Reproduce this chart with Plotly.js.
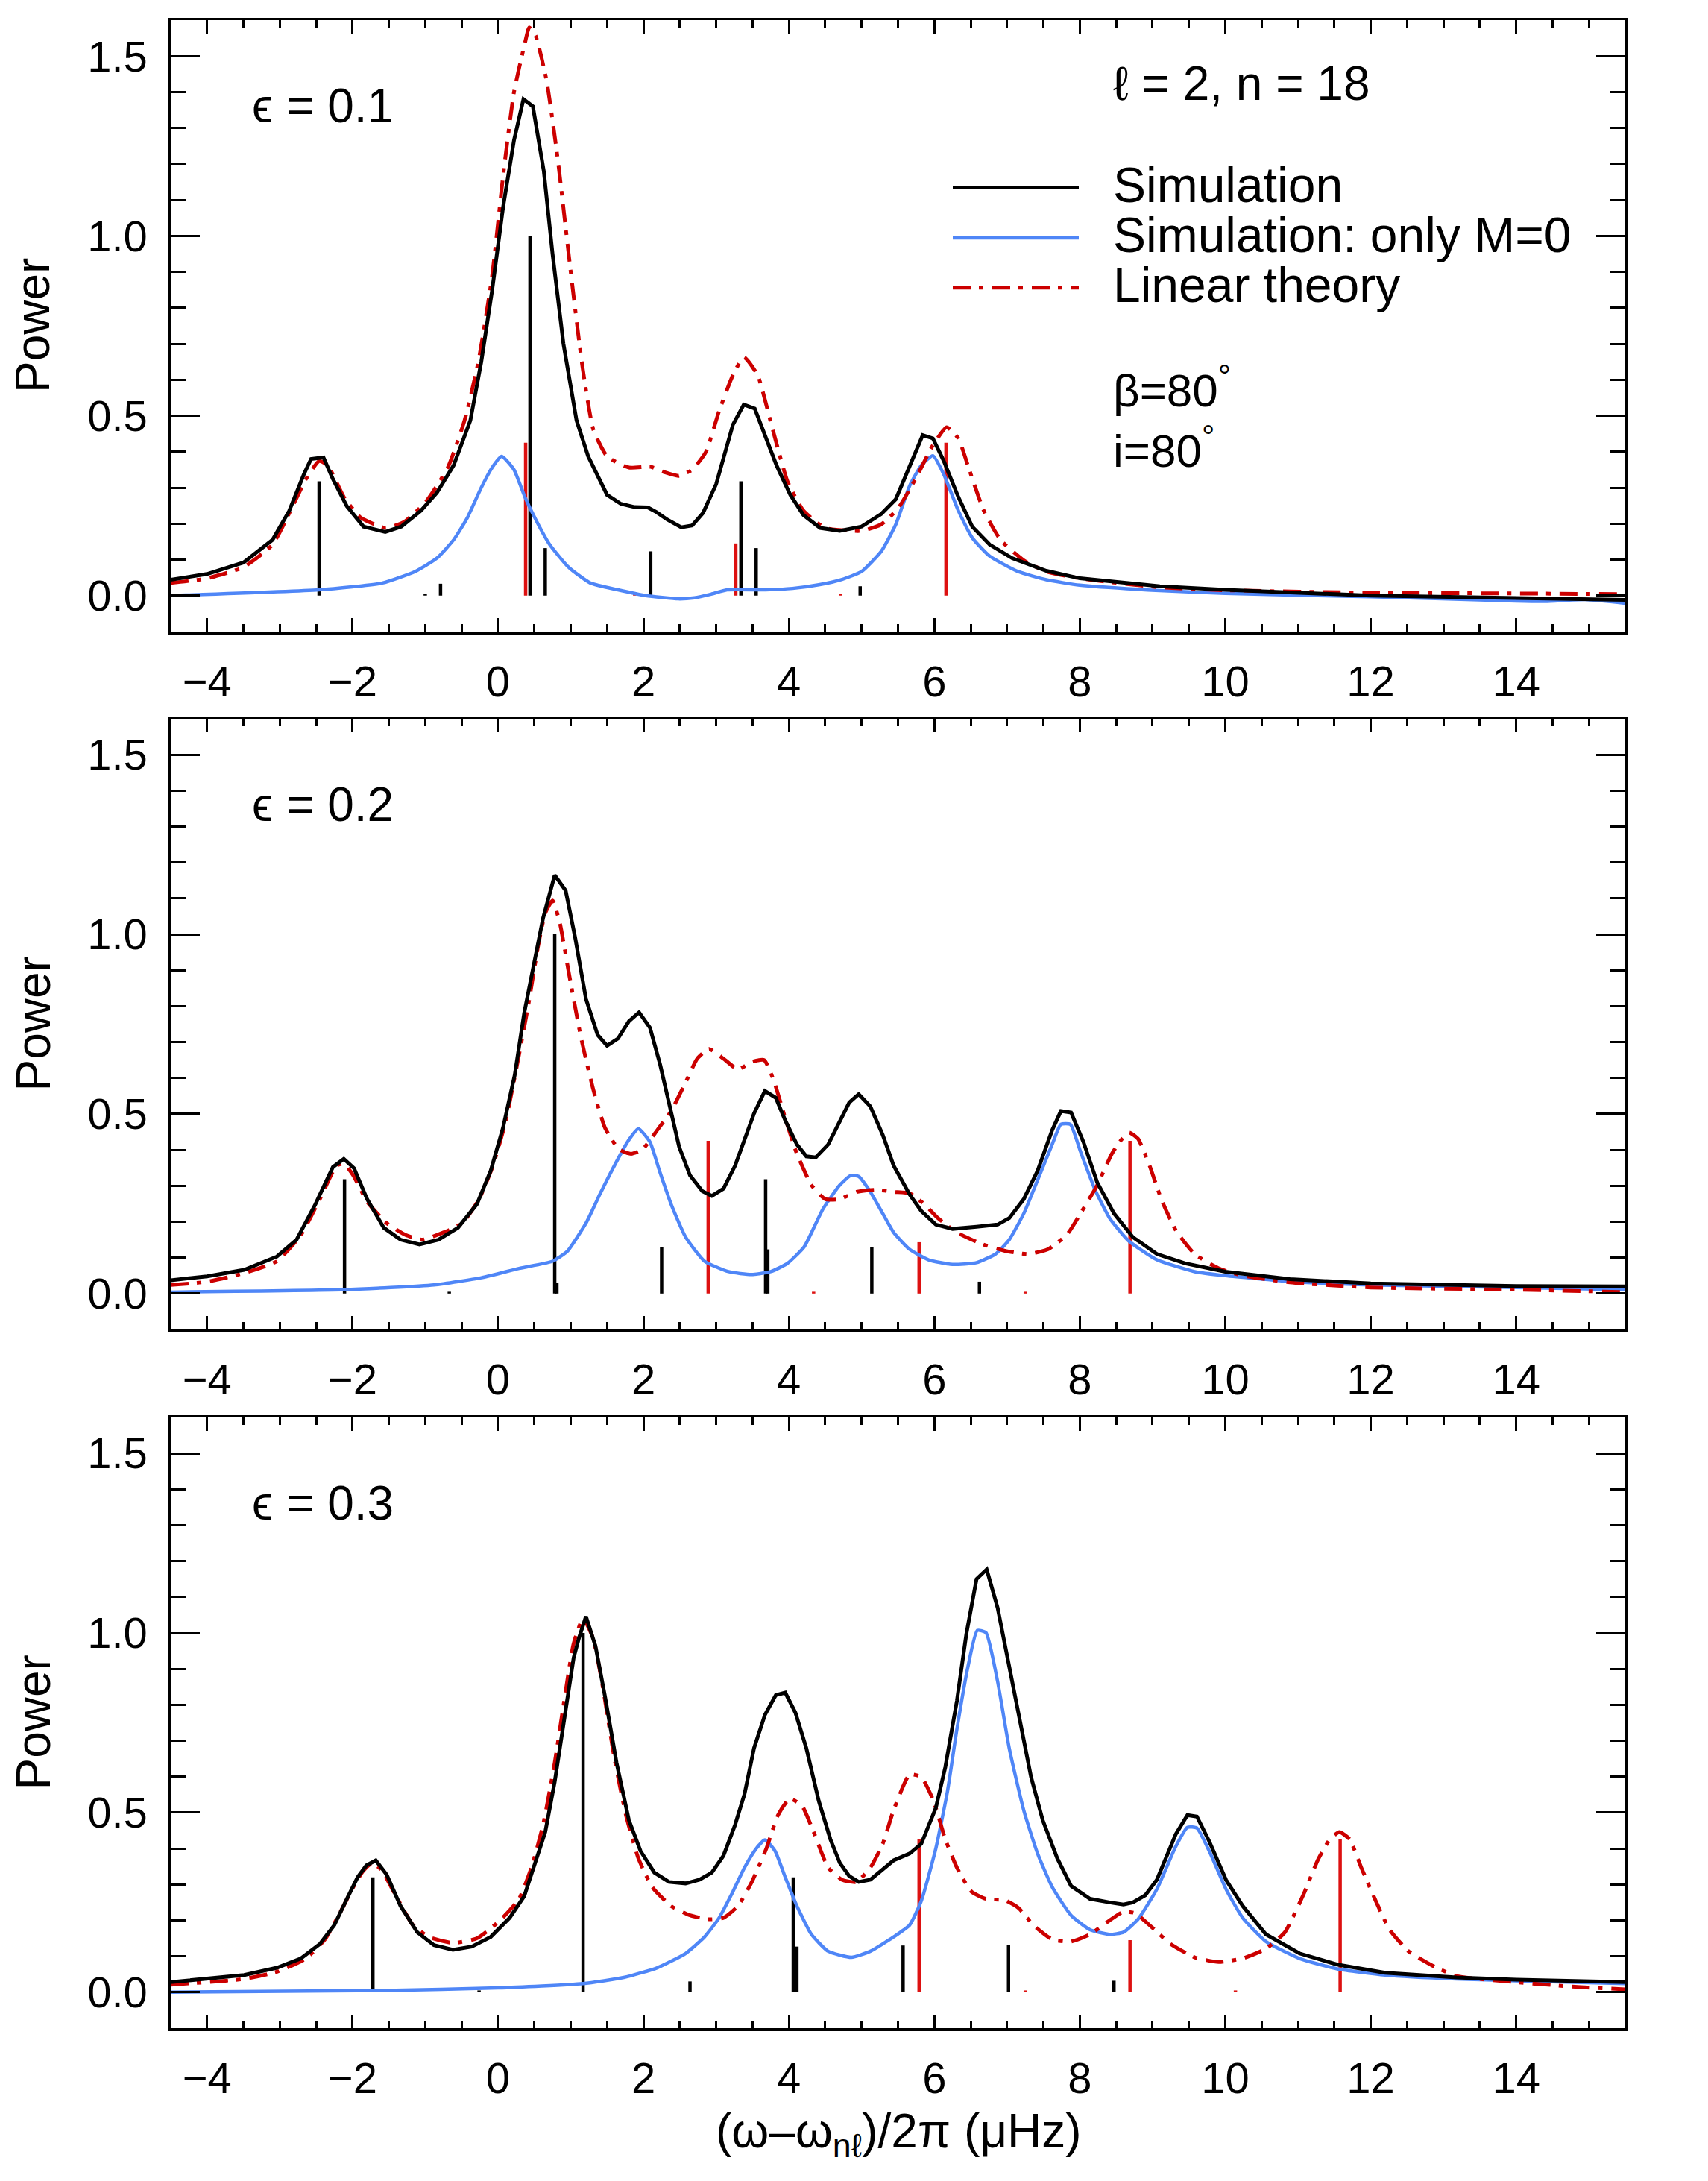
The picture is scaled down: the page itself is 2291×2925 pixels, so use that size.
<!DOCTYPE html>
<html>
<head>
<meta charset="utf-8">
<script src="https://cdn.plot.ly/plotly-3.0.1.min.js"></script>
<style>body{margin:0;background:#fff}</style>
</head>
<body>
<div id="chart" style="width:2291px;height:2925px"></div>
<script>
// epsilon = 0.1
const simX1 = [-4.5,-4,-3.5,-3.1,-2.87,-2.67,-2.57,-2.4,-2.27,-2.08,-1.85,-1.55,-1.33,-1.06,-0.84,-0.61,-0.38,-0.23,-0.08,0.07,0.22,0.35,0.48,0.63,0.75,0.9,1.08,1.24,1.5,1.69,1.88,2.06,2.18,2.33,2.52,2.67,2.82,3.0,3.23,3.38,3.53,3.68,3.83,4.02,4.2,4.43,4.7,5.0,5.27,5.47,5.66,5.84,5.98,6.13,6.33,6.52,6.76,7.07,7.54,8.0,9.1,10,12,14,15.5];
const simY1 = [0.044,0.06,0.092,0.155,0.236,0.337,0.38,0.384,0.324,0.249,0.192,0.177,0.192,0.236,0.286,0.362,0.487,0.65,0.85,1.08,1.266,1.38,1.36,1.18,0.95,0.70,0.487,0.387,0.28,0.255,0.246,0.245,0.232,0.211,0.19,0.195,0.23,0.31,0.475,0.531,0.52,0.443,0.362,0.28,0.224,0.188,0.18,0.192,0.227,0.268,0.362,0.446,0.437,0.374,0.274,0.192,0.142,0.104,0.069,0.048,0.026,0.016,0.0,-0.008,-0.012];
const m0X1 = [-4.5,-2.46,-1.59,-1.14,-0.84,-0.61,-0.42,-0.23,-0.08,0.05,0.22,0.37,0.52,0.71,0.97,1.27,1.65,2.03,2.48,2.7,2.93,3.15,3.68,4.05,4.41,4.73,5.0,5.27,5.47,5.66,5.82,5.98,6.13,6.33,6.52,6.76,7.15,7.54,8,9.1,10,12,14,14.4,14.95,15.5];
const m0Y1 = [0.0,0.016,0.035,0.067,0.104,0.155,0.217,0.3,0.356,0.387,0.35,0.274,0.211,0.142,0.079,0.035,0.016,0.0,-0.009,-0.006,0.004,0.016,0.016,0.02,0.03,0.045,0.067,0.123,0.198,0.305,0.362,0.389,0.337,0.236,0.161,0.11,0.067,0.044,0.029,0.014,0.006,-0.003,-0.015,-0.016,-0.011,-0.021];
const linX1 = [-4.5,-4,-3.5,-3.1,-2.64,-2.46,-2.34,-2.12,-1.89,-1.55,-1.29,-0.99,-0.69,-0.46,-0.27,-0.08,0.07,0.22,0.37,0.43,0.52,0.67,0.82,1.0,1.16,1.31,1.5,1.8,2.1,2.29,2.48,2.67,2.86,3.04,3.23,3.38,3.57,3.76,3.98,4.2,4.5,5.0,5.27,5.5,5.74,5.98,6.17,6.33,6.48,6.68,6.91,7.23,7.54,8,9.1,10,12,14,15.5];
const linY1 = [0.035,0.048,0.079,0.142,0.324,0.374,0.362,0.274,0.217,0.188,0.205,0.261,0.356,0.487,0.65,0.89,1.166,1.40,1.536,1.58,1.555,1.43,1.216,0.90,0.638,0.462,0.387,0.356,0.358,0.343,0.333,0.35,0.4,0.513,0.613,0.663,0.613,0.475,0.318,0.236,0.188,0.18,0.198,0.242,0.324,0.418,0.468,0.437,0.35,0.236,0.155,0.098,0.067,0.048,0.023,0.015,0.008,0.006,0.004];
const modeX1 = [-2.46,-1.0,-0.79,0.44,0.65,2.1,3.34,3.55,4.98];
const modeH1 = [0.318,0.005,0.033,1.0,0.132,0.123,0.318,0.132,0.026];
const theoX1 = [0.38,1.88,3.27,4.71,6.16];
const theoH1 = [0.425,0.005,0.145,0.005,0.425];

// epsilon = 0.2
const simX2 = [-4.5,-4,-3.49,-3.04,-2.77,-2.51,-2.27,-2.12,-1.98,-1.8,-1.57,-1.34,-1.08,-0.82,-0.55,-0.29,-0.1,0.07,0.23,0.36,0.49,0.62,0.78,0.93,1.06,1.21,1.37,1.5,1.65,1.8,1.94,2.09,2.23,2.36,2.49,2.64,2.81,2.94,3.1,3.26,3.52,3.67,3.82,3.95,4.11,4.24,4.37,4.54,4.7,4.83,4.96,5.12,5.29,5.44,5.66,5.82,6.02,6.25,6.58,6.87,7.03,7.23,7.42,7.62,7.74,7.88,8.05,8.24,8.47,8.73,9.06,9.45,10,10.89,12,14,15.5];
const simY2 = [0.037,0.048,0.066,0.103,0.15,0.249,0.352,0.375,0.349,0.263,0.183,0.15,0.137,0.15,0.183,0.249,0.342,0.462,0.608,0.78,0.913,1.045,1.165,1.122,0.992,0.82,0.72,0.69,0.71,0.758,0.783,0.74,0.637,0.528,0.409,0.329,0.285,0.272,0.292,0.356,0.501,0.564,0.545,0.482,0.415,0.382,0.379,0.415,0.482,0.532,0.555,0.521,0.442,0.356,0.276,0.23,0.192,0.18,0.186,0.192,0.21,0.263,0.342,0.455,0.508,0.504,0.422,0.309,0.223,0.157,0.11,0.084,0.061,0.04,0.028,0.021,0.02];
const m0X2 = [-4.5,-2.12,-0.88,-0.23,0.29,0.75,0.95,1.21,1.4,1.6,1.8,1.93,2.09,2.22,2.38,2.58,2.84,3.17,3.49,3.75,3.98,4.21,4.47,4.7,4.85,4.96,5.12,5.29,5.44,5.66,5.92,6.25,6.58,6.84,7.03,7.23,7.42,7.62,7.74,7.87,8.01,8.21,8.41,8.67,9.06,9.58,10,10.89,12,14,15.5];
const m0Y2 = [0.004,0.011,0.024,0.044,0.07,0.09,0.117,0.196,0.276,0.356,0.428,0.459,0.422,0.342,0.249,0.157,0.09,0.061,0.053,0.061,0.084,0.13,0.236,0.302,0.329,0.326,0.283,0.223,0.17,0.123,0.094,0.081,0.086,0.11,0.15,0.223,0.316,0.415,0.471,0.471,0.395,0.289,0.21,0.147,0.094,0.061,0.05,0.034,0.024,0.017,0.011];
const linX2 = [-4.5,-4,-3.49,-3.04,-2.71,-2.45,-2.22,-2.12,-1.99,-1.8,-1.53,-1.27,-1.04,-0.75,-0.49,-0.26,-0.07,0.1,0.26,0.42,0.55,0.65,0.75,0.85,0.98,1.14,1.31,1.47,1.66,1.83,1.99,2.19,2.38,2.58,2.74,2.9,3.1,3.3,3.49,3.66,3.79,3.95,4.11,4.31,4.5,4.7,4.93,5.19,5.44,5.66,5.86,6.05,6.31,6.64,6.97,7.29,7.56,7.82,8.01,8.24,8.44,8.57,8.68,8.8,8.96,9.12,9.32,9.58,9.91,10.24,10.89,12,14,15.5];
const linY2 = [0.024,0.033,0.057,0.09,0.163,0.263,0.356,0.362,0.329,0.256,0.196,0.163,0.15,0.17,0.196,0.263,0.356,0.475,0.634,0.807,0.966,1.059,1.094,1.032,0.886,0.714,0.568,0.462,0.402,0.389,0.402,0.455,0.508,0.588,0.654,0.681,0.654,0.624,0.645,0.65,0.594,0.488,0.389,0.302,0.263,0.263,0.283,0.289,0.283,0.279,0.249,0.21,0.17,0.139,0.119,0.11,0.123,0.163,0.223,0.302,0.389,0.428,0.448,0.431,0.356,0.263,0.176,0.11,0.07,0.05,0.031,0.017,0.011,0.004];
const modeX2 = [-2.11,-0.67,0.78,0.81,2.25,3.68,3.71,5.14,6.62];
const modeH2 = [0.318,0.005,1.0,0.03,0.13,0.318,0.123,0.13,0.033];
const theoX2 = [2.89,4.34,5.79,7.25,8.69];
const theoH2 = [0.425,0.005,0.143,0.005,0.425];

// epsilon = 0.3
const simX3 = [-4.5,-4,-3.49,-3.04,-2.71,-2.45,-2.25,-2.06,-1.93,-1.81,-1.68,-1.53,-1.34,-1.11,-0.88,-0.62,-0.36,-0.1,0.16,0.36,0.49,0.65,0.78,0.91,1.04,1.11,1.21,1.34,1.47,1.63,1.8,1.96,2.15,2.35,2.58,2.77,2.94,3.1,3.26,3.39,3.52,3.67,3.82,3.95,4.09,4.24,4.41,4.57,4.7,4.83,4.96,5.12,5.29,5.44,5.66,5.82,6.02,6.15,6.31,6.44,6.58,6.72,6.87,7.03,7.2,7.33,7.49,7.69,7.88,8.14,8.41,8.6,8.73,8.9,9.06,9.32,9.48,9.61,9.78,10.01,10.24,10.56,11.02,11.54,12.2,13.18,14,15.5];
const simY3 = [0.028,0.037,0.048,0.068,0.094,0.134,0.187,0.267,0.32,0.353,0.367,0.327,0.24,0.167,0.131,0.118,0.127,0.154,0.207,0.267,0.347,0.446,0.586,0.758,0.931,0.984,1.046,0.964,0.825,0.639,0.479,0.393,0.333,0.307,0.303,0.313,0.333,0.38,0.466,0.552,0.679,0.772,0.827,0.834,0.778,0.679,0.533,0.426,0.36,0.323,0.307,0.313,0.343,0.367,0.386,0.413,0.513,0.626,0.811,0.997,1.15,1.177,1.07,0.904,0.732,0.599,0.479,0.373,0.296,0.26,0.25,0.244,0.25,0.27,0.313,0.44,0.493,0.489,0.42,0.313,0.24,0.161,0.108,0.077,0.054,0.041,0.035,0.028];
const m0X3 = [-4.5,-1.53,0,1.17,1.73,2.19,2.58,2.84,3.04,3.23,3.39,3.54,3.67,3.81,3.95,4.11,4.31,4.54,4.86,5.12,5.44,5.66,5.82,6.02,6.18,6.31,6.46,6.59,6.71,6.87,7.03,7.23,7.42,7.62,7.88,8.14,8.41,8.6,8.8,9.06,9.32,9.48,9.61,9.78,10.01,10.24,10.56,11.02,11.54,12.2,13.18,14,15.5];
const m0Y3 = [0.0,0.005,0.012,0.024,0.041,0.068,0.108,0.154,0.207,0.28,0.347,0.397,0.424,0.393,0.32,0.24,0.161,0.114,0.097,0.114,0.154,0.187,0.254,0.4,0.559,0.732,0.904,1.007,1.001,0.865,0.679,0.506,0.386,0.293,0.214,0.174,0.161,0.167,0.203,0.287,0.406,0.459,0.457,0.393,0.287,0.207,0.141,0.094,0.065,0.048,0.037,0.032,0.024];
const linX3 = [-4.5,-4,-3.49,-3.04,-2.64,-2.38,-2.19,-1.99,-1.86,-1.73,-1.6,-1.4,-1.17,-0.95,-0.62,-0.29,0.03,0.29,0.46,0.62,0.78,0.91,1.04,1.17,1.31,1.44,1.6,1.76,1.93,2.12,2.38,2.64,2.9,3.1,3.3,3.49,3.69,3.85,4.01,4.18,4.34,4.54,4.73,4.93,5.12,5.29,5.44,5.66,5.82,5.99,6.15,6.31,6.51,6.71,6.97,7.16,7.36,7.62,7.88,8.14,8.41,8.6,8.76,8.99,9.25,9.58,9.91,10.24,10.56,10.82,11.08,11.27,11.44,11.57,11.71,11.87,12.07,12.26,12.52,12.85,13.18,14,14.81,15.5];
const linY3 = [0.021,0.028,0.037,0.057,0.094,0.147,0.214,0.293,0.336,0.36,0.34,0.267,0.187,0.154,0.137,0.15,0.2,0.26,0.347,0.466,0.639,0.811,0.971,1.04,0.984,0.851,0.652,0.493,0.373,0.293,0.24,0.214,0.203,0.207,0.24,0.307,0.4,0.493,0.539,0.519,0.446,0.347,0.313,0.307,0.347,0.413,0.507,0.606,0.599,0.532,0.426,0.347,0.28,0.26,0.256,0.234,0.187,0.147,0.141,0.161,0.2,0.224,0.22,0.181,0.134,0.097,0.084,0.094,0.121,0.167,0.274,0.367,0.426,0.446,0.426,0.347,0.254,0.174,0.114,0.074,0.045,0.028,0.015,0.008];
const modeX3 = [-1.72,-0.26,1.17,2.64,4.06,4.11,5.57,7.02,8.47];
const modeH3 = [0.32,0.005,1.0,0.03,0.32,0.127,0.13,0.131,0.032];
const theoX3 = [5.79,7.25,8.69,10.14,11.58];
const theoH3 = [0.426,0.005,0.145,0.005,0.426];

const epsLabels = ['\u03f5 = 0.1', '\u03f5 = 0.2', '\u03f5 = 0.3'];
const seriesNames = ['Simulation', 'Simulation: only M=0', 'Linear theory'];

const FONT = 'Liberation Sans, Arial, Helvetica, sans-serif';
const BLACK = '#000000';
const BLUE = '#4f86f7';
const RED = '#cc0000';
const STICKRED = '#dd1111';
const DASHDOT = '24px,11px,6px,12px';

// vertical lines from 0 up to each height, separated by nulls
function sticks(xs, hs) {
    let x = [], y = [];
    for (let i = 0; i < xs.length; i++) {
        x.push(xs[i], xs[i], null);
        y.push(0, hs[i], null);
    }
    return {x: x, y: y};
}

const panels = [
    {sx: simX1, sy: simY1, mx: m0X1, my: m0Y1, lx: linX1, ly: linY1, bx: modeX1, bh: modeH1, rx: theoX1, rh: theoH1},
    {sx: simX2, sy: simY2, mx: m0X2, my: m0Y2, lx: linX2, ly: linY2, bx: modeX2, bh: modeH2, rx: theoX2, rh: theoH2},
    {sx: simX3, sy: simY3, mx: m0X3, my: m0Y3, lx: linX3, ly: linY3, bx: modeX3, bh: modeH3, rx: theoX3, rh: theoH3},
];

// pixel layout of the page
const W = 2291, H = 2925;
const plotL = 229, plotR = 2180;
const panelTB = [[27, 847], [964, 1783], [1901, 2720]];

let data = [];
let layout = {
    width: W, height: H,
    margin: {l: 0, r: 0, t: 0, b: 0},
    paper_bgcolor: 'white', plot_bgcolor: 'white',
    showlegend: false,
    font: {family: FONT, color: BLACK},
    annotations: [], shapes: []
};

panels.forEach(function(p, i) {
    const s = i === 0 ? '' : String(i + 1);
    const xa = 'x' + s, ya = 'y' + s;
    const bs = sticks(p.bx, p.bh), rs = sticks(p.rx, p.rh);
    data.push({type: 'scatter', mode: 'lines', x: bs.x, y: bs.y, xaxis: xa, yaxis: ya,
        line: {color: BLACK, width: 4.5}, connectgaps: false, hoverinfo: 'skip'});
    data.push({type: 'scatter', mode: 'lines', x: rs.x, y: rs.y, xaxis: xa, yaxis: ya,
        line: {color: STICKRED, width: 4.5}, connectgaps: false, hoverinfo: 'skip'});
    data.push({type: 'scatter', mode: 'lines', name: seriesNames[1], x: p.mx, y: p.my, xaxis: xa, yaxis: ya,
        line: {color: BLUE, width: 4.5, shape: 'spline', smoothing: 0.5}});
    data.push({type: 'scatter', mode: 'lines', name: seriesNames[2], x: p.lx, y: p.ly, xaxis: xa, yaxis: ya,
        line: {color: RED, width: 5, dash: DASHDOT, shape: 'spline', smoothing: 0.5}});
    data.push({type: 'scatter', mode: 'lines', name: seriesNames[0], x: p.sx, y: p.sy, xaxis: xa, yaxis: ya,
        line: {color: BLACK, width: 5}});

    const top = panelTB[i][0], bot = panelTB[i][1];
    layout['xaxis' + s] = {
        anchor: ya, domain: [plotL / W, plotR / W], range: [-4.5, 15.5],
        showline: true, linewidth: 3.5, linecolor: BLACK, mirror: 'allticks',
        ticks: 'inside', ticklen: 18, tickwidth: 3, tickcolor: BLACK,
        tick0: 0, dtick: 2, showgrid: false, zeroline: false,
        minor: {ticks: 'inside', dtick: 0.5, ticklen: 10, tickwidth: 3, tickcolor: BLACK, showgrid: false},
        tickfont: {family: FONT, size: 58, color: BLACK}, ticklabelstandoff: 14
    };
    layout['yaxis' + s] = {
        anchor: xa, domain: [1 - bot / H, 1 - top / H], range: [-0.1, 1.6],
        showline: true, linewidth: 3.5, linecolor: BLACK, mirror: 'allticks',
        ticks: 'inside', ticklen: 39, tickwidth: 3, tickcolor: BLACK,
        tick0: 0, dtick: 0.5, tickformat: '.1f', showgrid: false, zeroline: false,
        minor: {ticks: 'inside', dtick: 0.1, ticklen: 20, tickwidth: 3, tickcolor: BLACK, showgrid: false},
        tickfont: {family: FONT, size: 58, color: BLACK}, ticklabelstandoff: 16
    };
    layout.annotations.push({
        xref: xa + ' domain', yref: ya + ' domain', x: 0.055, y: 0.86,
        xanchor: 'left', yanchor: 'middle', showarrow: false,
        text: epsLabels[i], font: {family: FONT, size: 64, color: BLACK}
    });
    layout.annotations.push({
        xref: 'paper', yref: 'paper', x: 44 / W, y: 1 - (top + bot) / 2 / H,
        xanchor: 'center', yanchor: 'middle', textangle: -90, showarrow: false,
        text: 'Power', font: {family: FONT, size: 64, color: BLACK}
    });
});

// key in the top panel
const keyY = [252, 319, 386];
const keyStyle = [{color: BLACK, width: 4}, {color: BLUE, width: 4.5}, {color: RED, width: 4.5, dash: DASHDOT}];
seriesNames.forEach(function(name, k) {
    layout.shapes.push({type: 'line', xref: 'paper', yref: 'paper',
        x0: 1278 / W, x1: 1447 / W, y0: 1 - keyY[k] / H, y1: 1 - keyY[k] / H, line: keyStyle[k]});
    layout.annotations.push({xref: 'paper', yref: 'paper', x: 1491 / W, y: 1 - (keyY[k] - 4) / H,
        xanchor: 'left', yanchor: 'middle', showarrow: false, text: name,
        font: {family: FONT, size: 66, color: BLACK}});
});
layout.annotations.push({xref: 'paper', yref: 'paper', x: 1491 / W, y: 1 - 112 / H,
    xanchor: 'left', yanchor: 'middle', showarrow: false, text: '\u2113 = 2, n = 18',
    font: {family: FONT, size: 64, color: BLACK}});
layout.annotations.push({xref: 'paper', yref: 'paper', x: 1491 / W, y: 1 - 478 / H,
    xanchor: 'left', yanchor: 'top', align: 'left', showarrow: false,
    text: '\u03b2=80<sup>\u00b0</sup><br>i=80<sup>\u00b0</sup>',
    font: {family: FONT, size: 62, color: BLACK}});

// x axis title under the bottom panel
layout.annotations.push({xref: 'paper', yref: 'paper', x: 1205 / W, y: 1 - 2862 / H,
    xanchor: 'center', yanchor: 'middle', showarrow: false,
    text: '(\u03c9\u2013\u03c9<sub>n\u2113</sub>)/2\u03c0 (\u03bcHz)',
    font: {family: FONT, size: 64, color: BLACK}});

Plotly.newPlot('chart', data, layout, {displayModeBar: false, staticPlot: true});
</script>
</body>
</html>
